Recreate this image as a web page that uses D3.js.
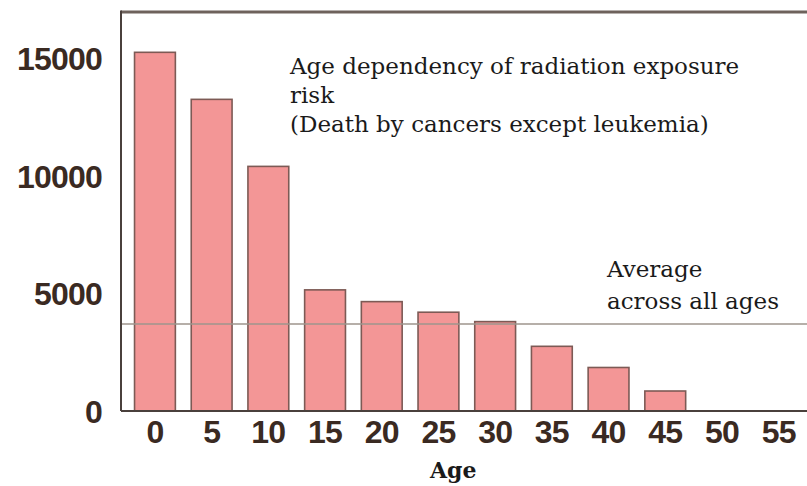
<!DOCTYPE html>
<html><head><meta charset="utf-8">
<script src="https://cdn.jsdelivr.net/npm/d3@7"></script>
<style>html,body{margin:0;padding:0;background:#fff;}svg{display:block;}</style>
</head><body>
<svg id="chart" width="807" height="486"></svg>
<script>
const ages = ["0","5","10","15","20","25","30","35","40","45","50","55"];
const risk = [15250, 13250, 10400, 5150, 4650, 4200, 3800, 2750, 1850, 850, 0, 0];
const yTicks = [0, 5000, 10000, 15000];
const averageRisk = 3700;
const titleLines = ["Age dependency of radiation exposure", "risk", "(Death by cancers except leukemia)"];
const avgLines = ["Average", "across all ages"];
const xTitle = "Age";

const svg = d3.select("#chart");
const plotL = 121, plotR = 807, plotT = 12, plotB = 411;

const x = d3.scaleBand().domain(ages).range([126.6, 807]).paddingInner(0.28).paddingOuter(0.14);
const y = d3.scaleLinear().domain([0, 5000]).range([plotB, plotB - 117.6]);

// bars
svg.append("g").selectAll("rect").data(ages).join("rect")
  .attr("x", d => x(d))
  .attr("width", x.bandwidth())
  .attr("y", (d, i) => y(risk[i]))
  .attr("height", (d, i) => plotB - y(risk[i]))
  .attr("fill", "#f39696")
  .attr("stroke", "#7d5a55")
  .attr("stroke-width", 1.6)
  .attr("display", (d, i) => risk[i] > 0 ? null : "none");

// average line
svg.append("line").attr("x1", plotL).attr("x2", plotR)
  .attr("y1", y(averageRisk)).attr("y2", y(averageRisk))
  .attr("stroke", "#9e958c").attr("stroke-width", 1.6);

// frame
svg.append("line").attr("x1", plotL).attr("x2", plotR).attr("y1", plotT).attr("y2", plotT)
  .attr("stroke", "#6e625c").attr("stroke-width", 3);
svg.append("line").attr("x1", plotL).attr("x2", plotL).attr("y1", plotT - 1.5).attr("y2", plotB)
  .attr("stroke", "#4a403c").attr("stroke-width", 2);

// axes
const yAxis = d3.axisLeft(y).tickValues(yTicks).tickSize(0).tickPadding(19).tickFormat(d3.format("d"));
const gy = svg.append("g").attr("transform", `translate(${plotL},0)`).call(yAxis);
gy.select(".domain").remove();
gy.selectAll("text").attr("font-family", "Liberation Sans, Arial, sans-serif")
  .attr("font-size", 32).attr("font-weight", "bold").attr("fill", "#3a2a22").attr("dy", "0.36em").attr("letter-spacing", -0.8);

const xAxis = d3.axisBottom(x).tickSize(0).tickPadding(9);
const gx = svg.append("g").attr("transform", `translate(0,${plotB})`).call(xAxis);
gx.select(".domain").attr("d", `M${plotL},0H${plotR}`).attr("stroke", "#4a403c").attr("stroke-width", 2);
gx.selectAll("text").attr("font-family", "Liberation Sans, Arial, sans-serif")
  .attr("font-size", 32).attr("font-weight", "bold").attr("fill", "#3a2a22").attr("dy", "0.72em").attr("letter-spacing", -0.8);

// title
const serif = "DejaVu Serif, Liberation Serif, serif";
svg.append("text").attr("font-family", serif).attr("font-size", 23).attr("fill", "#1a1a1a")
  .selectAll("tspan").data(titleLines).join("tspan")
  .attr("x", 290).attr("y", (d, i) => 74 + i * 29).text(d => d);

svg.append("text").attr("font-family", serif).attr("font-size", 23).attr("fill", "#1a1a1a")
  .selectAll("tspan").data(avgLines).join("tspan")
  .attr("x", 607).attr("y", (d, i) => 277 + i * 32).text(d => d);

svg.append("text").attr("font-family", serif).attr("font-size", 22).attr("font-weight", "bold")
  .attr("fill", "#1a1a1a").attr("x", 430).attr("y", 478).text(xTitle);
</script>
</body></html>
